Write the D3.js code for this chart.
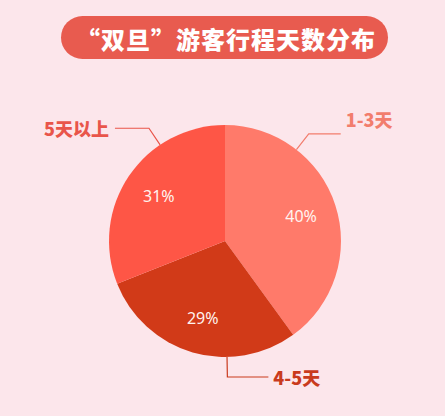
<!DOCTYPE html>
<html>
<head>
<meta charset="utf-8">
<script src="https://cdn.jsdelivr.net/npm/d3@7"></script>
<style>
  html, body { margin: 0; padding: 0; background: #fce6eb; }
  svg { display: block; }
</style>
</head>
<body>
<svg id="chart" width="445" height="416"></svg>
<script>
// Data
const categories = ['1-3天', '4-5天', '5天以上'];
const shares = [40, 29, 31];
const title = '“双旦”游客行程天数分布';

// Style per slice
const sliceColors = ['#ff7a6a', '#d13a18', '#fe5646'];
const labelColors = ['#f27d6d', '#c93a1d', '#e9554a'];
// leader anchor angle (deg, clockwise from top) and horizontal run
const leaderAngle = [38, 179, 326];
const leaderRun = [32, 41, -34];
const labelDy = [-15, 0, 0];

const width = 445, height = 416;
const cx = 225, cy = 241, R = 116;

const svg = d3.select('#chart');

svg.append('rect')
  .attr('width', width).attr('height', height)
  .attr('fill', '#fce6eb');

// Title pill
svg.append('rect')
  .attr('x', 61).attr('y', 16)
  .attr('width', 327).attr('height', 43)
  .attr('rx', 21.5)
  .attr('fill', '#e85b4f');

svg.append('text')
  .attr('x', 226).attr('y', 38)
  .attr('text-anchor', 'middle')
  .attr('dominant-baseline', 'central')
  .attr('fill', '#fff')
  .attr('font-family', '"Noto Sans CJK SC", sans-serif')
  .attr('font-weight', 900)
  .attr('font-size', 24)
  .attr('letter-spacing', 1)
  .text(title);

const g = svg.append('g').attr('transform', `translate(${cx},${cy})`);

const pie = d3.pie().sort(null).value(d => d)(shares);
const arc = d3.arc().innerRadius(0).outerRadius(R);
const labelArc = d3.arc().innerRadius(80).outerRadius(80);

g.selectAll('path.slice')
  .data(pie)
  .join('path')
  .attr('class', 'slice')
  .attr('d', arc)
  .attr('fill', (d, i) => sliceColors[i]);

g.selectAll('text.pct')
  .data(pie)
  .join('text')
  .attr('class', 'pct')
  .attr('transform', d => `translate(${labelArc.centroid(d)})`)
  .attr('text-anchor', 'middle')
  .attr('dominant-baseline', 'central')
  .attr('fill', '#fff3ef')
  .attr('font-family', '"Noto Sans", "Open Sans", sans-serif')
  .attr('font-size', 16)
  .text(d => d.data + '%');

// Leader lines + category labels
pie.forEach((d, i) => {
  const a = leaderAngle[i] * Math.PI / 180;
  const p0 = d3.pointRadial(a, R);
  const p1 = d3.pointRadial(a, 136);
  const p2 = [p1[0] + leaderRun[i], p1[1]];
  g.append('path')
    .attr('d', d3.line()([p0, p1, p2]))
    .attr('fill', 'none')
    .attr('stroke', labelColors[i])
    .attr('stroke-width', 1.2);
  const right = leaderRun[i] > 0;
  g.append('text')
    .attr('x', p2[0] + (right ? 5 : -6))
    .attr('y', p2[1] + labelDy[i])
    .attr('text-anchor', right ? 'start' : 'end')
    .attr('dominant-baseline', 'central')
    .attr('fill', labelColors[i])
    .attr('font-family', '"Noto Sans CJK SC", sans-serif')
    .attr('font-weight', 900)
    .attr('font-size', 18)
    .text(categories[i]);
});
</script>
</body>
</html>
